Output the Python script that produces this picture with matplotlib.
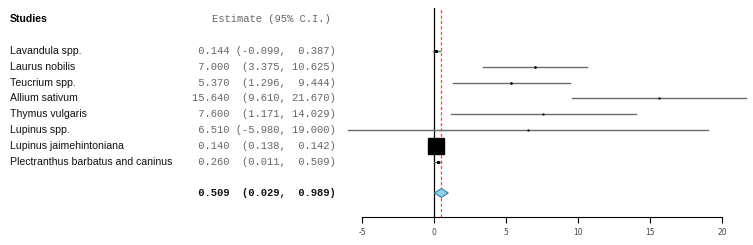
import matplotlib.pyplot as plt
from matplotlib.patches import Polygon

plt.rcParams['axes.unicode_minus'] = False

studies = ["Lavandula spp.", "Laurus nobilis", "Teucrium spp.", "Allium sativum",
           "Thymus vulgaris", "Lupinus spp.", "Lupinus jaimehintoniana",
           "Plectranthus barbatus and caninus"]
est = [0.144, 7.000, 5.370, 15.640, 7.600, 6.510, 0.140, 0.260]
lo = [-0.099, 3.375, 1.296, 9.610, 1.171, -5.980, 0.138, 0.011]
hi = [0.387, 10.625, 9.444, 21.670, 14.029, 19.000, 0.142, 0.509]
# square size (points), reflects study weight
sq = [1.2, 0.8, 0.8, 0.6, 0.6, 0.6, 12, 1.2]
pooled = [0.509, 0.029, 0.989]
xticks = [-5, 0, 5, 10, 15, 20]


def fmt(e, l, h):
    return f"{e:6.3f} " + f"({l:.3f},".rjust(8) + " " + f"{h:.3f})".rjust(7)


fig = plt.figure(figsize=(7.53, 2.45), dpi=100)
W, H = 753, 245
# y coordinate in pixels from top
ax = fig.add_axes([340 / W, 1 - 217 / H, 413 / W, (217 - 8) / H])
ax.set_xlim(-6.53, 22.15)
ax.set_ylim(217, 8)

rows_y = [51 + i * 15.8 for i in range(len(studies))]
sum_y = 193

for i in range(len(studies)):
    y = rows_y[i]
    ax.plot([lo[i], hi[i]], [y, y], color='#6a6a6a', lw=1.0, zorder=2)
    ax.plot(est[i], y, marker='s', ms=sq[i], color='black', zorder=3)
    fig.text(10 / W, 1 - y / H, studies[i], ha='left', va='center',
             fontsize=7.6, family='Liberation Sans', color='#111111')
    fig.text(336 / W, 1 - y / H, fmt(est[i], lo[i], hi[i]), ha='right', va='center',
             fontsize=7.6, family='Liberation Mono', color='#666666')

ax.axvline(0, color='black', lw=0.9, zorder=1)
ax.axvline(pooled[0], color='#e85050', lw=0.9, ls=(0, (2.5, 1.8)), zorder=1)

dh = 4.5
diamond = Polygon([[pooled[1], sum_y], [pooled[0], sum_y - dh],
                   [pooled[2], sum_y], [pooled[0], sum_y + dh]],
                  closed=True, facecolor='#8fd3e8', edgecolor='#3b7fa8', lw=0.8, zorder=4)
ax.add_patch(diamond)

fig.text(10 / W, 1 - 19 / H, "Studies", ha='left', va='center',
         fontsize=7.6, family='Liberation Sans', weight='bold')
fig.text(331 / W, 1 - 19 / H, "Estimate (95% C.I.)", ha='right', va='center',
         fontsize=7.6, family='Liberation Mono', color='#666666')
fig.text(336 / W, 1 - sum_y / H, fmt(*pooled), ha='right', va='center',
         fontsize=7.6, family='Liberation Mono', weight='bold', color='#111111')

for s in ['top', 'right', 'left']:
    ax.spines[s].set_visible(False)
ax.spines['bottom'].set_bounds(-5, 20)
ax.spines['bottom'].set_linewidth(0.8)
ax.set_yticks([])
ax.set_xticks(xticks)
ax.tick_params(axis='x', length=4, width=0.8, labelsize=5.5, labelcolor='#444444', pad=4)

fig.savefig("out.png", dpi=100)
